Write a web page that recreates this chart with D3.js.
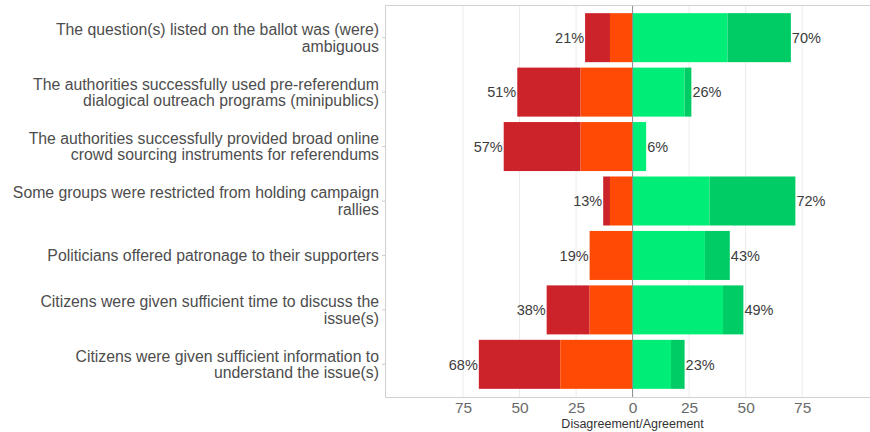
<!DOCTYPE html>
<html><head><meta charset="utf-8">
<script src="https://cdn.jsdelivr.net/npm/d3@7"></script>
<style>body{margin:0;background:#fff}svg{display:block;font-family:"Liberation Sans",Arial,sans-serif}</style>
</head><body><svg id="c" width="870" height="432"></svg>
<script>
const categories = [
  ["The question(s) listed on the ballot was (were)", "ambiguous"],
  ["The authorities successfully used pre-referendum", "dialogical outreach programs (minipublics)"],
  ["The authorities successfully provided broad online", "crowd sourcing instruments for referendums"],
  ["Some groups were restricted from holding campaign", "rallies"],
  ["Politicians offered patronage to their supporters"],
  ["Citizens were given sufficient time to discuss the", "issue(s)"],
  ["Citizens were given sufficient information to", "understand the issue(s)"]
];
const stronglyDisagree = [11, 28, 34, 3, 0, 19, 36];
const disagree         = [10, 23, 23, 10, 19, 19, 32];
const agree            = [42, 23, 6, 34, 32, 40, 17];
const stronglyAgree    = [28, 3, 0, 38, 11, 9, 6];
const tickValues = [-75, -50, -25, 0, 25, 50, 75];
const axisTitle = "Disagreement/Agreement";

const colors = {sd: "#cc2229", d: "#ff4a05", a: "#00ee77", sa: "#00cc66"};

const svg = d3.select("#c");
const pLeft = 385, pRight = 870, pTop = 5, pBottom = 397;
const x = d3.scaleLinear().domain([-109.5, 105]).range([pLeft, pRight]);
const ids = categories.map((c, i) => i);
const y = d3.scaleBand().domain(ids).range([pTop, pBottom]).paddingInner(0.1).paddingOuter(0.15);

// gridlines
svg.append("g").selectAll("line").data(tickValues.filter(v => v !== 0)).join("line")
  .attr("x1", d => x(d)).attr("x2", d => x(d)).attr("y1", pTop).attr("y2", pBottom)
  .attr("stroke", "#ebebeb").attr("stroke-width", 1);

// bars
const segs = [];
ids.forEach(i => {
  segs.push({i, x0: -disagree[i] - stronglyDisagree[i], x1: -disagree[i], c: colors.sd});
  segs.push({i, x0: -disagree[i], x1: 0, c: colors.d});
  segs.push({i, x0: 0, x1: agree[i], c: colors.a});
  segs.push({i, x0: agree[i], x1: agree[i] + stronglyAgree[i], c: colors.sa});
});
svg.append("g").selectAll("rect").data(segs.filter(s => s.x1 > s.x0)).join("rect")
  .attr("x", d => x(d.x0)).attr("width", d => x(d.x1) - x(d.x0))
  .attr("y", d => y(d.i)).attr("height", y.bandwidth())
  .attr("fill", d => d.c);

// zero line
svg.append("line").attr("x1", x(0)).attr("x2", x(0)).attr("y1", pTop).attr("y2", pBottom)
  .attr("stroke", "#8a8a8a").attr("stroke-width", 1);

// panel border (left, top, bottom)
svg.append("path")
  .attr("d", `M${pRight+2},${pTop+0.5}H${pLeft+0.5}V${pBottom+0.5}H${pRight+2}`)
  .attr("fill", "none").attr("stroke", "#d0d0d0").attr("stroke-width", 1);

// value labels
const lab = svg.append("g").attr("font-size", 14.5).attr("fill", "#3c3c3c");
ids.forEach(i => {
  const neg = disagree[i] + stronglyDisagree[i];
  const pos = agree[i] + stronglyAgree[i];
  const cy = y(i) + y.bandwidth() / 2;
  lab.append("text").attr("x", x(-neg) - 1).attr("y", cy).attr("dy", "0.36em")
    .attr("text-anchor", "end").text(neg + "%");
  lab.append("text").attr("x", x(pos) + 1).attr("y", cy).attr("dy", "0.36em")
    .attr("text-anchor", "start").text(pos + "%");
});

// y axis labels
const yl = svg.append("g").attr("font-size", 15.8).attr("fill", "#4d4d4d");
ids.forEach(i => {
  const lines = categories[i];
  const cy = y(i) + y.bandwidth() / 2;
  const lh = 16.5;
  lines.forEach((t, k) => {
    yl.append("text").attr("x", pLeft - 6).attr("y", cy + (k - (lines.length - 1) / 2) * lh)
      .attr("dy", "0.36em").attr("text-anchor", "end").text(t);
  });
  svg.append("line").attr("x1", pLeft - 3).attr("x2", pLeft).attr("y1", cy).attr("y2", cy)
    .attr("stroke", "#cfcfcf");
});

// x axis
const xa = svg.append("g").attr("transform", `translate(0,${pBottom})`)
  .call(d3.axisBottom(x).tickValues(tickValues).tickFormat(d => Math.abs(d)).tickSize(0).tickPadding(5));
xa.select(".domain").remove();
xa.selectAll("text").attr("font-size", 15.5).attr("fill", "#6a6a6a").attr("font-family", "Liberation Sans, Arial, sans-serif");

svg.append("text").attr("x", x(0)).attr("y", 428).attr("text-anchor", "middle")
  .attr("font-size", 12.5).attr("fill", "#333").text(axisTitle);
</script></body></html>
